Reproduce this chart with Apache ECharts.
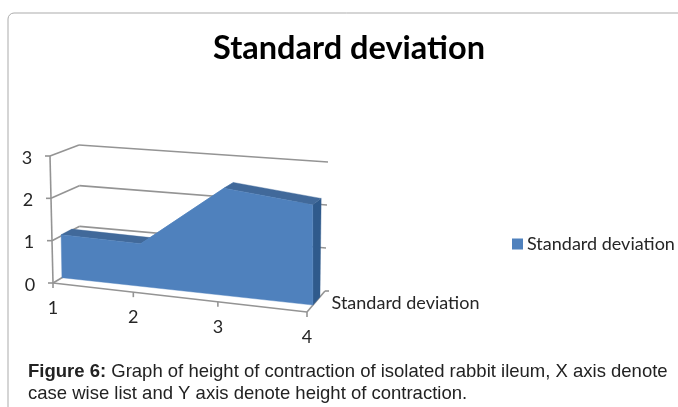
<!DOCTYPE html>
<html><head><meta charset="utf-8">
<style>html,body{margin:0;padding:0;background:#fff}#c{width:678px;height:407px}</style>
<script src="https://cdn.jsdelivr.net/npm/echarts@6/dist/echarts.min.js"></script>
</head><body><div id="c"></div>
<script>
const categories = [1, 2, 3, 4];
const stdDevValues = [1.03, 1.0, 2.47, 2.26];
const yTicks = [0, 1, 2, 3];
const seriesName = 'Standard deviation';
const chartTitle = 'Standard deviation';
const captionBold = 'Figure 6:';
const captionLine1 = ' Graph of height of contraction of isolated rabbit ileum, X axis denote';
const captionLine2 = 'case wise list and Y axis denote height of contraction.';

// 3D box projection: corners of the plot box on screen [front, back]
const BOX = {
  f: {bl:[53,283], br:[307,312], tl:[50,156], tr:[305,177]},
  b: {bl:[80,267], br:[325,291], tl:[79,145], tr:[328,162]}
};
const PERSP = 0.925, D1 = 0.33, D2 = 0.72;
const GRID = {left:53, top:156, width:254, height:127};
const GRAY = '#949494', TXT = '#262626', FONT = '"Lato"';
const lerp = (p,q,t) => [p[0]+(q[0]-p[0])*t, p[1]+(q[1]-p[1])*t];
function proj(pt, d, cs) {
  const a0 = (pt[0]-cs.x)/cs.width, b = (cs.y+cs.height-pt[1])/cs.height;
  const a = PERSP*a0/(PERSP*a0+1-a0);
  const plane = s => lerp(lerp(s.bl,s.br,a), lerp(s.tl,s.tr,a), b);
  return lerp(plane(BOX.f), plane(BOX.b), d);
}
const line = (p,q) => ({type:'line', silent:true, shape:{x1:p[0],y1:p[1],x2:q[0],y2:q[1]}, style:{stroke:GRAY,lineWidth:1.6,fill:null}});
const label = (text,p,size) => ({type:'text', silent:true, style:{text:String(text),x:p[0],y:p[1],font:`${size||18}px ${FONT}`,fill:TXT,align:'center',verticalAlign:'middle'}});

const option = {
  animation:false,
  textStyle:{fontFamily:FONT},
  title:[
    {text:chartTitle,left:344,textAlign:'center',top:27,textStyle:{fontFamily:FONT,fontWeight:'bold',fontSize:32.5,color:'#000'}},
    {text:`{b|${captionBold}}{n|${captionLine1}}\n{n|${captionLine2}}`,left:23,top:356,
     textStyle:{fontWeight:'normal',rich:{b:{fontFamily:'"Liberation Sans"',fontWeight:'bold',fontSize:18.5,lineHeight:22,color:'#222'},
                      n:{fontFamily:'"Liberation Sans"',fontWeight:'normal',fontSize:18.5,lineHeight:22,color:'#222'}}}}
  ],
  legend:{data:[seriesName],left:507,top:230,itemWidth:11,itemHeight:11,itemGap:2,icon:'rect',
    textStyle:{fontFamily:FONT,fontSize:18,color:TXT,padding:[0,0,0,-1]}},
  grid:GRID,
  xAxis:{type:'value',min:1,max:4,interval:1,show:false},
  yAxis:{type:'value',min:0,max:3,interval:1,show:false},
  graphic:[{type:'rect',z:-10,silent:true,shape:{x:8,y:13,width:720,height:440,r:6},style:{fill:'#fff',stroke:'#ababab',lineWidth:1}}],
  series:[
    {type:'custom',name:'walls',coordinateSystem:'cartesian2d',z:2,silent:true,legendHoverLink:false,
     data:yTicks.map(v=>[categories[0],v]),encode:{x:0,y:1},
     renderItem(params,api){
       const cs=params.coordSys, v=api.value(1), first=categories[0], last=categories[categories.length-1];
       const L=api.coord([first,v]), R=api.coord([last,v]);
       const f=proj(L,0,cs), bl=proj(L,1,cs), br=proj(R,1,cs);
       const ch=[line(f,bl),line([f[0]-5,f[1]],f),label(v,[f[0]-23,f[1]+2])];
       if(v>0){ch.push(line(bl,br));}
       else {
         const fr=proj(R,0,cs);
         ch.push(line(f,fr),line(fr,br),line(br,[br[0]+4,br[1]]),
                 label(seriesName,[405.5,303],18));
       }
       if(v===yTicks[yTicks.length-1]){ch.push(line(proj(api.coord([first,0]),0,cs),f));}
       return {type:'group',children:ch};
     }},
    {type:'custom',name:'xticks',coordinateSystem:'cartesian2d',z:2,silent:true,
     data:categories.map(c=>[c,0]),encode:{x:0,y:1},
     renderItem(params,api){
       const p=proj(api.coord([api.value(0),0]),0,params.coordSys);
       return {type:'group',children:[line(p,[p[0],p[1]+5]),label(api.value(0),[p[0],p[1]+25])]};
     }},
    {type:'custom',name:seriesName,coordinateSystem:'cartesian2d',z:3,silent:true,
     itemStyle:{color:'#4f81bd'},
     data:categories.map((c,i)=>[c,stdDevValues[i]]),encode:{x:0,y:1},
     renderItem(params,api){
       if(params.dataIndex!==0) return null;
       const cs=params.coordSys, P=(c,v,d)=>proj(api.coord([c,v]),d,cs);
       const ch=[];
       const poly=(pts,fill)=>ch.push({type:'polygon',silent:true,shape:{points:pts},style:{fill,stroke:fill,lineWidth:0.4}});
       const n=categories.length;
       // right side face
       poly([P(categories[n-1],stdDevValues[n-1],D1),P(categories[n-1],stdDevValues[n-1],D2),
             P(categories[n-1],0,D2),P(categories[n-1],0,D1)],'#2f5a8c');
       // top faces
       for(let i=0;i<n-1;i++){
         const rising=stdDevValues[i+1]>stdDevValues[i];
         poly([P(categories[i],stdDevValues[i],D1),P(categories[i],stdDevValues[i],D2),
               P(categories[i+1],stdDevValues[i+1],D2),P(categories[i+1],stdDevValues[i+1],D1)],
              rising?'#4f81bd':'#41699a');
       }
       // front face
       const front=[P(categories[0],0,D1)];
       categories.forEach((c,i)=>front.push(P(c,stdDevValues[i],D1)));
       front.push(P(categories[n-1],0,D1));
       poly(front,'#4f81bd');
       return {type:'group',children:ch};
     }}
  ]
};
const chart=echarts.init(document.getElementById('c'),null,{renderer:'canvas'});
chart.setOption(option);
</script></body></html>
